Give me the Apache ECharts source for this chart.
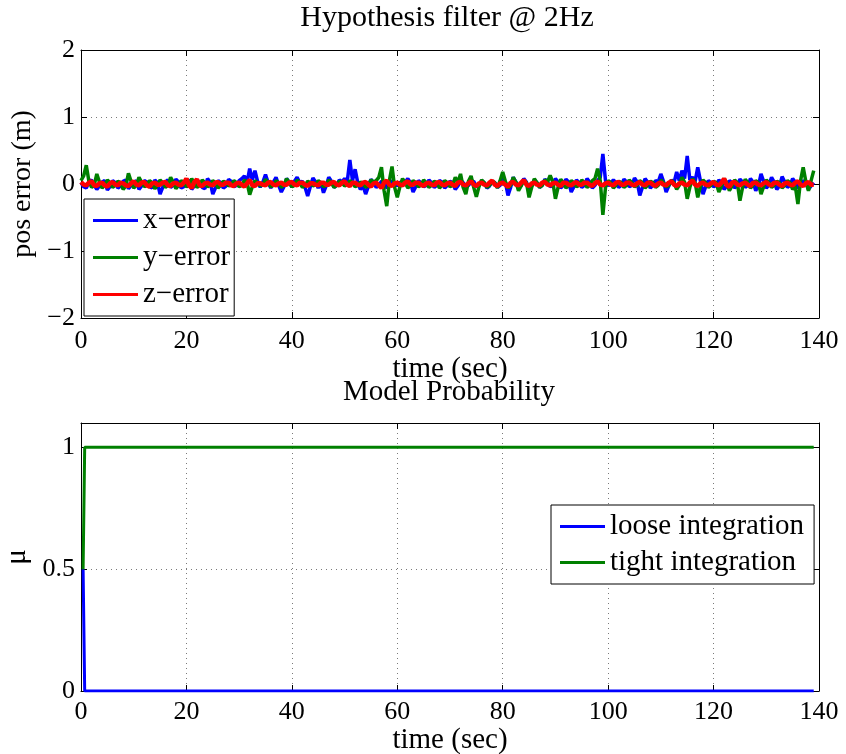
<!DOCTYPE html>
<html>
<head>
<meta charset="utf-8">
<script src="https://cdn.jsdelivr.net/npm/echarts@6/dist/echarts.min.js"></script>
<style>
  html, body { margin: 0; padding: 0; background: #fff; }
  #chart { width: 846px; height: 754px; }
</style>
</head>
<body>
<div id="chart"></div>
<script>
// The filter runs at 2 Hz: one sample every half second
const timeStep = 0.5;

// Position error components (m); each row covers ten seconds
const xError = [
  0.02,-0.04,-0.06,0.03,0.06,-0.02,-0.08,-0.03,0.03,0.05,-0.09,-0.04,0.05,0.02,-0.06,-0.03,0.04,0.06,-0.07,-0.02,
  0.02,0.05,-0.08,-0.03,0.05,0.03,-0.04,-0.06,0.06,0.02,-0.15,-0.05,0.03,0.06,-0.05,-0.02,0.07,0.03,-0.06,-0.04,
  0.04,0.06,-0.08,-0.03,0.06,0.02,-0.05,-0.07,0.08,0.03,-0.15,-0.06,0.05,0.02,-0.06,-0.03,0.07,0.04,-0.04,-0.02,
  0.05,0.08,0.12,0.02,0.23,0.06,0.20,0.04,-0.05,0.03,0.14,0.02,-0.06,0.03,0.10,-0.02,-0.12,-0.04,0.08,0.03,
  -0.05,0.04,0.10,0.02,0.04,-0.05,-0.18,-0.04,0.09,0.03,-0.06,0.02,-0.13,-0.03,0.10,0.04,-0.05,-0.02,0.06,0.03,
  0.08,0.03,0.36,0.05,0.22,0.02,-0.08,-0.03,-0.15,-0.04,0.07,0.02,-0.05,-0.02,0.04,0.02,-0.06,-0.02,0.05,0.02,
  -0.03,0.02,0.04,0.03,0.08,0.02,-0.12,-0.04,0.05,0.02,-0.04,-0.02,0.06,0.02,-0.05,-0.02,0.05,0.03,-0.06,-0.02,
  0.04,0.02,-0.08,-0.03,0.06,0.02,-0.05,-0.02,0.03,0.04,-0.04,-0.02,0.05,0.02,-0.06,-0.03,0.04,0.02,-0.05,-0.02,
  0.09,0.03,-0.17,-0.05,0.10,0.03,-0.06,-0.02,0.08,0.03,-0.10,-0.03,0.06,0.02,-0.05,-0.02,0.07,0.03,-0.04,-0.02,
  0.08,0.03,-0.06,-0.02,0.07,0.03,-0.12,-0.04,0.06,0.02,-0.05,-0.02,0.08,0.03,-0.06,-0.02,0.05,0.10,0.45,0.05,
  -0.03,0.02,0.06,0.02,-0.05,-0.02,0.07,0.03,-0.04,-0.02,0.09,0.03,-0.17,-0.05,0.08,0.03,-0.06,-0.02,0.05,0.03,
  0.15,0.04,-0.12,-0.03,0.06,0.02,0.18,0.05,0.20,0.08,0.42,0.06,0.10,0.04,0.25,0.05,-0.15,-0.04,0.05,0.02,
  -0.04,-0.02,0.06,0.02,-0.08,-0.03,0.05,0.02,-0.06,-0.02,0.07,0.03,-0.05,-0.02,0.08,0.03,-0.10,-0.03,0.15,0.04,
  -0.06,-0.02,0.10,0.03,-0.08,-0.03,0.11,0.03,-0.05,-0.02,0.08,0.03,-0.06,-0.02,0.05,0.02,-0.08,-0.03,0.02
];
const yError = [
  0.05,0.12,0.28,0.04,-0.05,-0.02,0.15,0.03,-0.06,-0.02,0.06,0.02,-0.05,-0.02,0.04,0.02,-0.08,-0.03,0.16,0.04,
  -0.06,-0.02,0.10,0.03,-0.04,-0.02,0.05,0.02,-0.07,-0.02,0.06,0.02,-0.05,-0.02,0.10,0.03,-0.07,-0.02,0.05,0.02,
  -0.04,-0.02,0.08,0.02,-0.05,-0.02,0.06,0.02,-0.04,-0.02,0.05,0.02,-0.06,-0.02,0.04,0.02,-0.03,-0.01,0.05,0.02,
  -0.04,-0.02,0.06,0.02,-0.16,-0.04,0.05,0.02,-0.03,-0.01,0.07,0.02,-0.04,-0.02,0.05,0.02,-0.05,-0.02,0.08,0.02,
  -0.04,-0.02,0.06,0.02,-0.05,-0.02,0.04,0.02,-0.03,-0.01,0.05,0.02,-0.04,-0.02,0.06,0.02,-0.05,-0.02,0.04,0.02,
  -0.03,-0.01,0.05,0.02,-0.04,-0.02,0.03,0.01,-0.05,-0.02,0.06,0.03,0.05,0.10,0.25,-0.10,-0.33,0.05,0.26,-0.05,
  -0.20,-0.04,0.08,0.02,-0.06,-0.02,0.05,0.02,-0.04,-0.02,0.06,0.02,-0.05,-0.02,0.04,0.02,-0.06,-0.02,0.05,0.02,
  -0.04,-0.02,0.10,0.03,0.15,-0.05,-0.15,0.04,0.12,-0.05,-0.19,-0.04,0.06,0.02,-0.05,-0.02,0.04,0.02,-0.06,0.05,
  0.18,0.04,-0.06,-0.02,0.10,0.03,-0.10,-0.03,0.06,0.02,-0.20,-0.05,0.08,0.02,-0.05,-0.02,0.06,0.03,0.13,0.03,
  -0.22,-0.05,0.07,0.02,-0.06,-0.02,0.05,0.02,-0.04,-0.02,0.06,0.02,-0.05,-0.02,0.05,0.08,0.23,0.05,-0.46,-0.05,
  0.05,0.02,-0.06,-0.02,0.04,0.02,-0.05,-0.02,0.06,0.02,-0.04,-0.02,0.05,0.02,-0.06,-0.02,0.04,0.02,-0.05,-0.02,
  0.06,0.02,-0.04,-0.02,0.05,0.02,-0.08,-0.02,0.10,0.03,-0.22,-0.05,0.08,0.02,-0.20,-0.04,0.06,0.02,-0.05,-0.02,
  0.04,0.02,-0.12,-0.03,0.08,0.02,-0.10,-0.03,0.06,0.02,-0.25,-0.05,0.07,0.02,-0.06,-0.02,0.05,0.02,-0.15,-0.04,
  0.06,0.02,-0.05,-0.02,0.04,0.02,-0.06,-0.02,0.05,0.02,-0.08,-0.03,-0.30,0.05,0.25,0.04,-0.10,0.05,0.20
];
const zError = [
  0.03,-0.01,-0.02,0.02,0.04,-0.02,-0.03,0.01,0.02,-0.02,-0.04,0.01,0.03,-0.01,-0.02,0.02,0.01,-0.02,-0.03,0.01,
  0.04,-0.01,-0.02,0.02,0.03,-0.02,-0.04,0.01,0.02,-0.01,-0.01,0.02,0.03,-0.02,-0.03,0.01,0.02,-0.01,-0.02,0.02,
  0.08,-0.02,-0.06,0.03,0.07,-0.02,-0.03,0.01,0.02,-0.01,-0.02,0.02,0.03,-0.01,-0.01,0.02,0.02,-0.02,-0.03,0.01,
  0.02,-0.01,-0.04,0.01,0.06,-0.02,-0.03,0.01,0.01,-0.01,-0.02,0.02,0.03,-0.01,-0.02,0.01,0.02,-0.01,-0.01,0.02,
  0.03,-0.01,-0.02,0.02,0.02,-0.01,-0.03,0.01,0.01,-0.01,-0.02,0.02,0.02,-0.01,-0.01,0.02,0.03,-0.01,-0.02,0.02,
  0.04,-0.01,-0.03,0.02,0.02,-0.01,-0.02,0.02,0.03,-0.01,-0.04,0.01,0.02,-0.02,-0.06,0.02,0.05,-0.01,-0.03,0.01,
  0.02,-0.01,-0.02,0.02,0.04,-0.01,-0.01,0.02,0.02,-0.01,-0.03,0.01,0.02,-0.01,-0.02,0.02,0.03,-0.01,-0.02,0.01,
  0.02,-0.01,-0.03,0.02,0.03,-0.01,-0.02,0.01,0.04,-0.01,-0.03,0.01,0.02,-0.01,-0.02,0.02,0.05,-0.01,-0.03,0.01,
  0.02,-0.01,-0.04,0.02,0.03,-0.01,-0.02,0.02,0.06,-0.01,-0.03,0.01,0.02,-0.01,-0.02,0.02,0.03,-0.01,-0.02,0.01,
  0.02,-0.01,-0.03,0.02,0.02,-0.01,-0.02,0.01,0.03,-0.01,-0.01,0.02,0.02,-0.01,-0.03,0.01,0.04,-0.01,-0.02,0.01,
  0.02,-0.01,-0.02,0.02,0.03,-0.01,-0.01,0.02,0.02,-0.01,-0.02,0.01,0.03,-0.01,-0.02,0.02,0.02,-0.01,-0.03,0.01,
  0.02,-0.01,-0.02,0.02,0.04,-0.01,-0.03,0.01,0.02,-0.01,-0.02,0.02,0.05,-0.01,-0.03,0.01,0.02,-0.01,-0.02,0.01,
  0.03,-0.01,-0.02,0.02,0.08,-0.02,-0.04,0.02,0.03,-0.01,-0.02,0.01,0.02,-0.01,-0.03,0.02,0.02,-0.01,-0.02,0.01,
  0.03,-0.01,-0.02,0.02,0.02,-0.01,-0.03,0.01,0.02,-0.01,-0.02,0.02,0.04,-0.01,-0.03,0.01,0.03,-0.01,-0.01
];

// Model probabilities of the two integration hypotheses
const probTime = [0.4, 0.7, 139];
const looseProb = [0.5, 0.0, 0.0];
const tightProb = [0.5, 1.0, 1.0];

// Axis ticks
const timeTicks = { min: 0, max: 140, interval: 20 };
const errTicks = { min: -2, max: 2, interval: 1 };
const probTicks = { min: 0, max: 1.1, interval: 0.5 };

const FONT = 'Liberation Serif';
const toPairs = (vals) => vals.map((v, i) => [i * timeStep, v]);
const probPairs = (vals) => vals.map((v, i) => [probTime[i], v]);
const minus = (v) => String(v).replace('-', '\u2212');

const gridLine = { show: true, lineStyle: { color: '#7a7a7a', type: [1, 4], width: 1 } };
const blackLine = { show: true, onZero: false, lineStyle: { color: '#000', width: 1 } };
const inTick = { show: true, inside: true, length: 6, lineStyle: { color: '#000' } };
const tickFont = { fontFamily: FONT, fontSize: 26, color: '#000' };
const nameFont = { fontFamily: FONT, fontSize: 29, color: '#000' };

function xAxes(grid, labelMargin, nameGap) {
  return [
    Object.assign({
      gridIndex: grid, type: 'value', position: 'bottom',
      axisLine: blackLine, axisTick: inTick, splitLine: gridLine,
      axisLabel: Object.assign({ margin: labelMargin }, tickFont),
      name: 'time (sec)', nameLocation: 'middle', nameGap: nameGap, nameTextStyle: nameFont
    }, timeTicks),
    Object.assign({
      gridIndex: grid, type: 'value', position: 'top',
      axisLine: blackLine, axisTick: inTick, splitLine: { show: false },
      axisLabel: { show: false }
    }, timeTicks)
  ];
}

function yAxes(grid, ticks, name, nameGap, nameSize, extraLabel) {
  return [
    Object.assign({
      gridIndex: grid, type: 'value', position: 'left',
      axisLine: blackLine, axisTick: inTick, splitLine: gridLine,
      axisLabel: Object.assign({ margin: 6, formatter: minus }, tickFont, extraLabel || {}),
      name: name, nameLocation: 'middle', nameGap: nameGap,
      nameTextStyle: Object.assign({}, nameFont, { fontSize: nameSize })
    }, ticks),
    Object.assign({
      gridIndex: grid, type: 'value', position: 'right',
      axisLine: blackLine, axisTick: inTick, splitLine: { show: false },
      axisLabel: { show: false }
    }, ticks)
  ];
}

function lineSeries(name, data, color, xi, yi, width) {
  return {
    name: name, type: 'line', data: data, xAxisIndex: xi, yAxisIndex: yi,
    showSymbol: false, symbol: 'none', clip: true,
    lineStyle: { color: color, width: width }, itemStyle: { color: color }
  };
}

const legendBase = {
  orient: 'vertical', icon: 'rect', itemWidth: 45, itemHeight: 3,
  backgroundColor: '#fff', borderColor: '#000', borderWidth: 1, borderRadius: 0,
  textStyle: { fontFamily: FONT, fontSize: 29, color: '#000' },
  selectedMode: false
};

const option = {
  animation: false,
  backgroundColor: '#fff',
  graphic: [
    { type: 'text', x: 447, y: 18, style: { text: 'Hypothesis filter @ 2Hz', font: '30px "Liberation Serif"', fill: '#000', textAlign: 'center', textVerticalAlign: 'middle' } },
    { type: 'text', x: 449, y: 392, style: { text: 'Model Probability', font: '29px "Liberation Serif"', fill: '#000', textAlign: 'center', textVerticalAlign: 'middle' } }
  ],
  grid: [
    { left: 81, right: 27, top: 50, height: 268, outerBoundsMode: 'none' },
    { left: 81, right: 27, top: 423, height: 268, outerBoundsMode: 'none' }
  ],
  xAxis: xAxes(0, 10, 30).concat(xAxes(1, 8, 35)),
  yAxis: yAxes(0, errTicks, 'pos error (m)', 44, 28).concat(
         yAxes(1, probTicks, '\u03bc', 49, 29, { showMaxLabel: false })),
  legend: [
    Object.assign({}, legendBase, {
      data: ['x\u2212error', 'y\u2212error', 'z\u2212error'],
      left: 84, top: 199, itemGap: 8, padding: [7, 4, 7, 9]
    }),
    Object.assign({}, legendBase, {
      data: ['loose integration', 'tight integration'],
      left: 551, top: 505, itemGap: 7, padding: [7, 10, 7, 9]
    })
  ],
  series: [
    lineSeries('x\u2212error', toPairs(xError), '#0000ff', 0, 0, 3.5),
    lineSeries('y\u2212error', toPairs(yError), '#008000', 0, 0, 3.5),
    lineSeries('z\u2212error', toPairs(zError), '#ff0000', 0, 0, 4.5),
    lineSeries('loose integration', probPairs(looseProb), '#0000ff', 2, 2, 3),
    lineSeries('tight integration', probPairs(tightProb), '#008000', 2, 2, 3)
  ]
};

const chart = echarts.init(document.getElementById('chart'), null, { renderer: 'canvas' });
chart.setOption(option);
</script>
</body>
</html>
